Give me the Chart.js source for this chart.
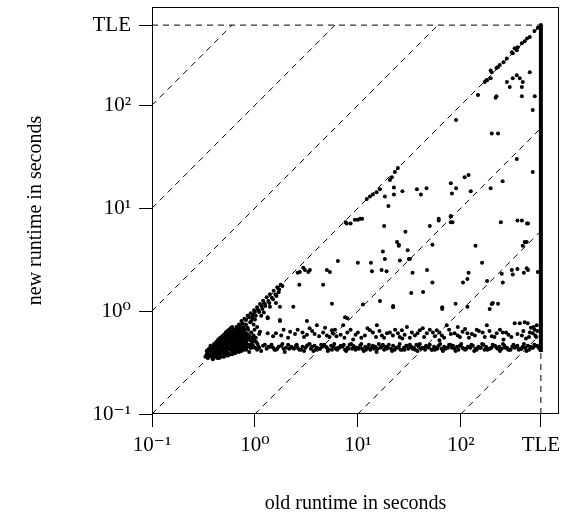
<!DOCTYPE html>
<html>
<head>
<meta charset="utf-8">
<script src="https://cdn.jsdelivr.net/npm/chart.js@4/dist/chart.umd.min.js"></script>
<style>
  body { margin: 0; background: #fff; }
  #wrap { width: 563px; height: 516px; }
</style>
</head>
<body>
<div id="wrap"><canvas id="runtimes"></canvas></div>
<script>
const TLE = 600;
const tickValues = [0.1, 1, 10, 100, 600];
const tickLabels = ['10⁻¹', '10⁰', '10¹', '10²', 'TLE'];
// guide lines new = ratio * old
const ratioLines = [1000, 100, 10, 1, 0.1, 0.01, 0.001];

// [old runtime, new runtime] in seconds
const clusterPoints = [
    [0.33,0.36],[0.34,0.38],[0.35,0.35],[0.36,0.40],[0.37,0.37],[0.38,0.42],[0.38,0.36],[0.39,0.39],[0.40,0.44],[0.40,0.37],
    [0.41,0.41],[0.42,0.38],[0.42,0.46],[0.43,0.43],[0.44,0.40],[0.44,0.48],[0.45,0.37],[0.45,0.45],[0.46,0.42],[0.46,0.50],
    [0.47,0.39],[0.47,0.47],[0.48,0.44],[0.48,0.52],[0.49,0.41],[0.49,0.49],[0.50,0.46],[0.50,0.55],[0.51,0.38],[0.51,0.43],
    [0.52,0.50],[0.52,0.58],[0.53,0.45],[0.53,0.53],[0.54,0.40],[0.54,0.48],[0.55,0.56],[0.55,0.61],[0.56,0.44],[0.56,0.51],
    [0.57,0.47],[0.57,0.59],[0.58,0.42],[0.58,0.54],[0.59,0.63],[0.60,0.49],[0.60,0.45],[0.61,0.57],[0.62,0.41],[0.62,0.52],
    [0.63,0.66],[0.64,0.47],[0.64,0.60],[0.65,0.44],[0.66,0.55],[0.67,0.50],[0.68,0.62],[0.69,0.46],[0.70,0.68],[0.71,0.53],
    [0.72,0.43],[0.73,0.58],[0.75,0.48],[0.76,0.65],[0.78,0.45],[0.80,0.55],[0.82,0.42],[0.84,0.60],[0.86,0.47],[0.90,0.52],
    [0.93,0.44],[0.97,0.58],[0.36,0.43],[0.39,0.34],[0.43,0.35],[0.47,0.36],[0.53,0.37],[0.58,0.38],[0.66,0.40],[0.74,0.41],
    [0.88,0.40],[1.05,0.42],
    [0.34,0.41],[0.35,0.39],[0.36,0.37],[0.37,0.44],[0.37,0.41],[0.38,0.39],[0.39,0.45],[0.39,0.42],[0.40,0.40],[0.41,0.47],
    [0.41,0.36],[0.42,0.43],[0.43,0.49],[0.43,0.39],[0.44,0.45],[0.44,0.37],[0.45,0.51],[0.45,0.41],[0.46,0.47],[0.46,0.38],
    [0.47,0.53],[0.47,0.44],[0.48,0.40],[0.48,0.49],[0.49,0.56],[0.49,0.45],[0.50,0.42],[0.50,0.51],[0.51,0.58],[0.51,0.47],
    [0.52,0.40],[0.52,0.54],[0.53,0.49],[0.53,0.42],[0.54,0.60],[0.54,0.45],[0.55,0.52],[0.55,0.39],[0.56,0.57],[0.56,0.47],
    [0.57,0.64],[0.57,0.43],[0.58,0.50],[0.58,0.60],[0.59,0.46],[0.59,0.55],[0.60,0.41],[0.60,0.53],[0.61,0.62],[0.61,0.48],
    [0.62,0.44],[0.62,0.56],[0.63,0.51],[0.63,0.60],[0.64,0.43],[0.65,0.53],[0.65,0.64],[0.66,0.47],[0.67,0.58],[0.67,0.42],
    [0.68,0.52],[0.69,0.66],[0.69,0.56],[0.70,0.45],[0.71,0.61],[0.72,0.50],[0.73,0.68],[0.74,0.55],[0.75,0.44],[0.76,0.60],
    [0.77,0.51],[0.79,0.66],[0.80,0.47],[0.81,0.58],[0.83,0.52],[0.85,0.69],[0.87,0.56],[0.89,0.46],[0.92,0.62],[0.95,0.50],
    [0.99,0.66],[1.02,0.55],[1.06,0.48],[1.10,0.60],
    [0.35,0.42],[0.37,0.46],[0.40,0.48],[0.42,0.50],[0.44,0.53],[0.46,0.55],[0.48,0.57],[0.50,0.59],[0.52,0.62],[0.54,0.64],
    [0.56,0.66],[0.58,0.68],[0.60,0.70],[0.62,0.64],[0.64,0.56],[0.66,0.51],[0.68,0.45],[0.70,0.57],[0.72,0.63],[0.74,0.47],
    [0.76,0.53],[0.78,0.58],[0.80,0.62],[0.82,0.49],[0.84,0.45],[0.86,0.53],[0.88,0.58],[0.90,0.44],[0.92,0.48],[0.94,0.55],
    [0.96,0.46],[0.98,0.52],[1.00,0.44],[1.03,0.50],[1.08,0.45],[0.45,0.35],[0.50,0.36],[0.55,0.37],[0.60,0.38],[0.64,0.39],
    [0.70,0.40],[0.78,0.42],[0.83,0.44],[0.63,0.45],[0.67,0.48],[0.71,0.49],[0.73,0.51],[0.77,0.56],[0.60,0.51],[0.57,0.55]
];

const diagonalPoints = [
    [0.60,0.61],[0.63,0.64],[0.66,0.70],[0.68,0.68],[0.70,0.74],[0.72,0.73],[0.74,0.80],[0.76,0.76],[0.79,0.84],[0.82,0.82],
    [0.85,0.90],[0.88,0.87],[0.91,0.95],[0.95,0.92],[0.98,1.02],[1.00,0.98],[1.05,1.09],[1.08,1.02],[1.12,1.17],[1.16,1.12],
    [1.20,1.26],[1.25,1.18],[1.30,1.36],[1.35,1.25],[1.40,1.46],[1.46,1.35],[1.52,1.58],[1.58,1.45],[1.65,1.70],[1.72,1.62],
    [1.78,1.80],[1.85,1.75],[0.78,0.70],[0.92,0.80],[1.05,0.70],[1.12,0.63],[1.33,0.87],[1.75,0.82],[1.33,0.61],[0.86,0.66],
    [0.97,0.74],[1.15,0.90],[1.40,1.10],[1.60,1.20],
    [0.75,0.66],[0.82,0.74],[0.90,0.78],[0.95,0.86],[1.02,0.90],[1.10,0.98],[1.18,1.05],[1.26,1.12],[1.38,1.20],[1.50,1.30],
    [1.62,1.40],[1.70,1.52],[0.70,0.62],[1.00,0.83],[1.22,0.97],
    [2.6,2.36],[2.73,2.4],[2.95,2.64],[3.06,2.5],[3.3,2.4],[3.42,2.5],
    [7.6,7.3],[7.8,7.1],[8.5,7.1],[9.35,7.7],[10,7.7],[10.5,7.9],[11,7.9],
    [12.2,12.3],[13.1,13],[14,13.6],[15.2,14.3],[16.4,15.3],[18.3,13],[19.8,10.5],[22.4,13.6],
    [20.5,18.8],[21.4,20],[22.9,22.4],[24.5,24.5],[22.4,15.9],[27.1,14.6],
    [90,72],[147,126],[218,118],[222,122],
    [281,168],[299,150],[320,183],[350,195],[374,183],[400,168],[392,150],[392,122],[468,209],[523,122],[500,90],
    [468,460],[418,418],[392,400],[357,365],[334,357],[313,327],[320,320],[350,342],[440,445],[520,525],[560,565],
    [239,246],[230,235],[222,230],[200,209],[195,218],[195,183],[180,175],[171,168],[177,175],[260,262],[280,285],
    [600,600]
];

const lowBand = [
    [1.1,.44],[1.2,.46],[1.3,.43],[1.35,.45],[1.45,.47],[1.5,.44],[1.6,.42],[1.7,.45],[1.8,.46],[1.9,.43],
    [2.0,.44],[2.1,.47],[2.25,.45],[2.4,.43],[2.5,.46],[2.6,.44],[2.8,.42],[2.9,.45],[3.1,.44],[3.3,.47],
    [3.5,.43],[3.6,.45],[3.8,.46],[4.0,.44],[4.2,.43],[4.5,.45],[4.7,.47],[5.0,.44],[5.2,.42],[5.5,.46],
    [5.8,.45],[6.1,.43],[6.4,.44],[6.8,.46],[7.1,.45],[7.5,.42],[7.9,.44],[8.3,.47],[8.8,.43],[9.2,.45],
    [9.8,.44],[10.5,.46],[11,.43],[11.8,.45],[12.5,.44],[13.2,.42],[14,.46],[14.8,.45],[15.5,.43],[16.5,.44],
    [17.5,.47],[18.5,.45],[19.5,.44],[21,.43],[22,.46],[23.5,.44],[25,.45],[26,.42],[28,.44],[29.5,.46],
    [31,.43],[33,.45],[35,.44],[37,.47],[39,.45],[41,.43],[44,.44],[46,.46],[49,.44],[52,.42],
    [55,.45],[58,.44],[61,.46],[65,.43],[69,.45],[73,.44],[77,.47],[82,.44],[87,.43],[92,.45],
    [98,.46],[104,.44],[110,.42],[117,.45],[124,.44],[131,.46],[139,.43],[148,.45],[157,.44],[166,.47],
    [176,.45],[187,.43],[198,.44],[210,.46],[222,.44],[236,.45],[250,.43],[265,.46],[281,.44],[298,.42],
    [316,.45],[335,.44],[355,.46],[376,.43],[399,.45],[423,.44],[448,.46],[475,.45],[503,.44],[533,.46],
    [565,.45],
    [1.15,.41],[1.4,.45],[1.65,.43],[1.95,.40],[2.3,.44],[2.7,.42],[3.2,.46],[3.7,.41],[4.3,.43],[4.9,.45],
    [5.6,.42],[6.6,.44],[7.7,.41],[9.0,.46],[10.2,.43],[12,.42],[13.6,.44],[15.2,.40],[17,.45],[19,.43],
    [21.5,.41],[24,.44],[27,.42],[30,.46],[34,.43],[38,.41],[42.5,.44],[47,.45],[53,.42],[59,.43],
    [67,.41],[75,.44],[84,.46],[95,.42],[107,.43],[120,.45],[135,.41],[152,.44],[170,.42],[192,.43],
    [215,.46],[240,.41],[270,.44],[305,.42],[345,.45],[390,.43],[435,.41],[490,.44],[550,.46],
    [1.25,.47],[1.55,.42],[1.85,.48],[2.15,.43],[2.55,.47],[3.0,.41],[3.4,.48],[3.9,.42],[4.4,.47],[5.1,.41],
    [5.9,.48],[6.3,.42],[7.3,.47],[8.1,.43],[8.6,.48],[9.5,.42],[10.8,.48],[11.4,.41],[12.8,.47],[14.4,.43],
    [16,.48],[18,.42],[20,.47],[22.8,.42],[25.5,.48],[28.5,.42],[32,.47],[36,.42],[40,.48],[45,.42],
    [50,.47],[56,.42],[63,.48],[71,.43],[79,.47],[89,.41],[101,.48],[113,.43],[127,.47],[143,.42],
    [161,.48],[181,.42],[204,.47],[229,.43],[257,.48],[289,.42],[325,.47],[366,.42],[411,.48],[461,.42],
    [518,.47],[580,.43]
];

const highBand = [
    [1.6,0.61],[1.8,0.58],[2.2,0.63],[2.45,0.60],[2.9,0.62],[3.2,0.59],[3.6,0.64],[3.8,0.60],[4.6,0.62],[5.0,0.58],
    [5.6,0.65],[5.7,0.61],[6.2,0.57],[7.2,0.73],[7.9,0.62],[10,0.62],[11.7,0.58],[13.1,0.65],[14,0.62],[15.3,0.73],
    [17.1,0.58],[19.2,0.61],[20.5,0.62],[21.9,0.58],[24.5,0.61],[26.8,0.65],[30,0.70],[33.5,0.62],[35.8,0.58],[40,0.65],
    [42.7,0.68],[46.8,0.61],[53.5,0.62],[58.5,0.65],[65.5,0.58],[73,0.73],[80,0.60],[93.5,0.70],[93.5,0.58],[104,0.63],
    [116,0.61],[137,0.58],[150,0.64],[163,0.62],[179,0.73],[200,0.57],[223,0.61],[256,0.62],[290,0.59],[334,0.76],
    [374,0.76],[392,0.58],[418,0.78],[447,0.76],[468,0.62],[500,0.61],[547,0.73],[520,0.66],[480,0.69],[540,0.56],
    [9,0.53],[27,0.54],[62,0.52],[120,0.55],[260,0.53],[430,0.54],
    [1.5,0.57],[1.9,0.66],[2.1,0.55],[2.6,0.66],[3.0,0.56],[3.4,0.68],[4.2,0.57],[4.8,0.69],[5.3,0.56],[6.0,0.66],
    [6.8,0.59],[7.4,0.55],[8.5,0.66],[9.5,0.59],[10.8,0.55],[12.4,0.68],[15,0.56],[16.2,0.64],[18,0.55],[23,0.66],
    [25.5,0.56],[28.5,0.59],[32,0.55],[38,0.61],[44,0.56],[50,0.66],[56,0.57],[62,0.62],[69,0.55],[77,0.66],
    [87,0.61],[98,0.56],[110,0.67],[128,0.60],[143,0.66],[171,0.56],[190,0.64],[212,0.56],[240,0.66],[275,0.62],
    [310,0.56],[355,0.60],[405,0.64],[460,0.56],[510,0.70],[530,0.58],[555,0.64]
];

const scatterPoints = [
    [5.6,1.18],[11.2,1.16],[16.4,1.25],[22,1.12],[22,1.09],[66,1.05],[66,1.09],[89,1.18],[116,1.1],[191,1.05],
    [200,1.17],[205,1.2],[230,1.18],[7.5,0.87],[1.75,1.1],[2.36,1.1],[1.75,0.8],[3.2,0.8],[4.0,0.73],[7.9,0.85],
    [1.33,0.85],[4.6,1.8],[2.7,1.8],
    [18,6.7],[29,5.9],[50,6.7],[61,7.6],[80,8.4],[80,7.3],[83,7.3],[245,7.3],[355,7.6],[392,7.6],[440,7.1],[450,7.1],
    [24,4.7],[25,4.3],[25,4.4],[17.5,3.8],[18.3,3.2],[30.5,3.9],[32,3.2],[31.3,3.2],[25.6,3.1],[53,4.4],
    [139,4.3],[400,4.3],[418,4.7],[437,4.7],
    [6.4,3.06],[10,2.95],[13.4,2.95],[13.7,2.44],[17,2.5],[19,2.44],[34,2.36],[47,2.5],[53,1.9],[33,1.5],
    [43,1.53],[105,1.9],[116,2.05],[119,2.36],[161,2.95],[180,1.96],[250,2.3],[256,1.9],[313,2.5],[320,2.27],
    [355,2.56],[410,2.36],[437,2.6],[450,2.5],[560,2.4],[5.0,2.5],[5.35,2.4],
    [37.5,15.3],[41,13.6],[46.5,15.6],[80,17.5],[82,13.9],[90,15.6],[109,20],[119,21],[125,14.6],[195,15.6],
    [255,18.3],[350,30],[500,22.4],[61,7.9],[80,8.3],[200,53],[230,53]
];

// instances that hit the time limit with the old version
const tleColumn = [0.40, 600];

const allPoints = [].concat(clusterPoints, diagonalPoints, lowBand, highBand, scatterPoints)
    .map(p => ({x: p[0], y: p[1]}));

const dashed = {
    showLine: true,
    borderColor: '#000',
    borderWidth: 1,
    borderDash: [6, 5],
    pointRadius: 0,
    fill: false
};

const guideSets = ratioLines.map(k => Object.assign({}, dashed, {
    data: [
        {x: Math.max(0.1, 0.1 / k), y: Math.max(0.1, 0.1 * k)},
        {x: Math.min(TLE, TLE / k), y: Math.min(TLE, TLE * k)}
    ]
}));

const boxPlugin = {
    id: 'box',
    afterDraw(chart) {
        const {ctx, chartArea: a} = chart;
        ctx.save();
        ctx.strokeStyle = '#000';
        ctx.lineWidth = 1;
        const l = Math.round(a.left) + 0.5, t = Math.round(a.top) + 0.5;
        const r = Math.round(a.right) - 0.5, b = Math.round(a.bottom) - 0.5;
        ctx.strokeRect(l, t, r - l, b - t);
        ctx.restore();
    }
};

const serif = "'Liberation Serif', 'DejaVu Serif', serif";

function axis(titleText, size, titlePad) {
    return {
        type: 'logarithmic',
        min: 0.1,
        max: 900,
        afterBuildTicks: s => { s.ticks = tickValues.map(v => ({value: v})); },
        afterFit: s => {
            s[size.key] = size.value;
            s.paddingLeft = 0; s.paddingRight = 0; s.paddingTop = 0; s.paddingBottom = 0;
        },
        grid: {
            display: true,
            drawOnChartArea: false,
            drawTicks: true,
            tickLength: 13,
            color: '#000',
            lineWidth: 1
        },
        border: { display: false },
        ticks: {
            autoSkip: false,
            maxRotation: 0,
            padding: size.pad,
            color: '#000',
            font: { family: serif, size: 21 },
            callback: v => tickLabels[tickValues.indexOf(v)]
        },
        title: {
            display: true,
            text: titleText,
            color: '#000',
            font: { family: serif, size: 20 },
            padding: titlePad
        }
    };
}

new Chart(document.getElementById('runtimes'), {
    type: 'scatter',
    data: {
        datasets: [
            {
                data: allPoints,
                backgroundColor: '#000',
                borderWidth: 0,
                pointRadius: 2
            },
            {
                data: [{x: TLE, y: tleColumn[0]}, {x: TLE, y: tleColumn[1]}],
                showLine: true,
                borderColor: '#000',
                borderWidth: 4,
                pointRadius: 0
            },
            Object.assign({}, dashed, { data: [{x: 0.1, y: TLE}, {x: TLE, y: TLE}] }),
            Object.assign({}, dashed, { data: [{x: TLE, y: 0.1}, {x: TLE, y: TLE}] })
        ].concat(guideSets)
    },
    options: {
        responsive: true,
        maintainAspectRatio: false,
        animation: false,
        layout: { padding: { top: 7, right: 4, left: 0, bottom: 0 } },
        scales: {
            x: axis('old runtime in seconds', {key: 'height', value: 102, pad: 6}, {top: 0, bottom: 0}),
            y: axis('new runtime in seconds', {key: 'width', value: 152, pad: 8}, {top: 24, bottom: 0})
        },
        plugins: {
            legend: { display: false },
            tooltip: { enabled: false }
        }
    },
    plugins: [boxPlugin]
});
</script>
</body>
</html>
